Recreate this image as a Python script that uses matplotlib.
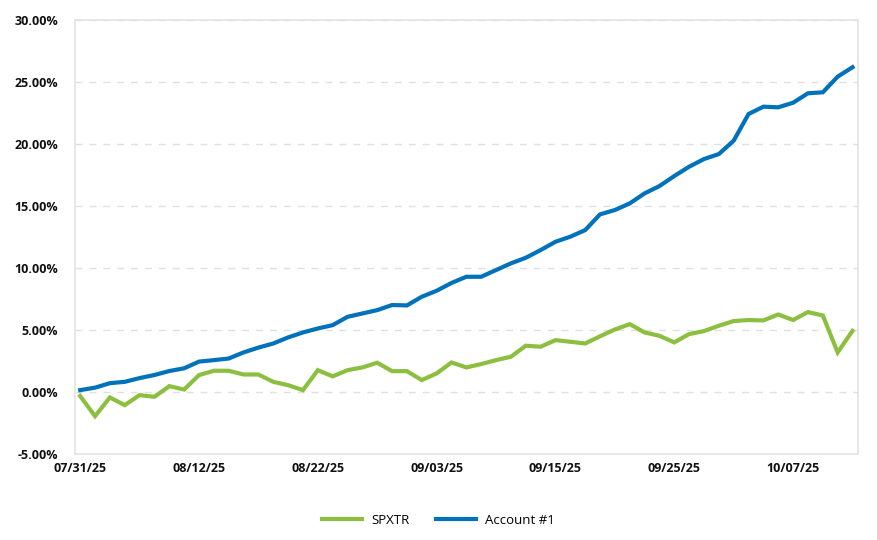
import matplotlib
matplotlib.use("Agg")
import matplotlib.pyplot as plt
from matplotlib.ticker import FuncFormatter

plt.rcParams['font.family'] = ['Open Sans', 'DejaVu Sans']

# cumulative return (%) per trading day, 07/31/25 .. 10/13/25
spxtr = [-0.32, -1.94, -0.43, -1.05, -0.24, -0.38, 0.48, 0.21, 1.37, 1.72,
         1.72, 1.42, 1.42, 0.83, 0.56, 0.16, 1.77, 1.27, 1.77, 1.99,
         2.37, 1.69, 1.69, 0.97, 1.51, 2.39, 1.99, 2.26, 2.58, 2.85,
         3.74, 3.66, 4.19, 4.06, 3.92, 4.50, 5.05, 5.48, 4.81, 4.54,
         4.01, 4.68, 4.92, 5.35, 5.73, 5.81, 5.78, 6.26, 5.81, 6.45,
         6.18, 3.20, 4.94]
account1 = [0.16, 0.36, 0.72, 0.83, 1.13, 1.38, 1.70, 1.92, 2.46, 2.58,
            2.71, 3.20, 3.59, 3.92, 4.41, 4.81, 5.13, 5.40, 6.07, 6.34,
            6.61, 7.02, 6.99, 7.69, 8.17, 8.80, 9.30, 9.30, 9.84, 10.38,
            10.83, 11.45, 12.12, 12.53, 13.06, 14.33, 14.68, 15.21, 16.02, 16.61,
            17.42, 18.17, 18.79, 19.19, 20.27, 22.42, 23.01, 22.96, 23.33, 24.09,
            24.17, 25.43, 26.19]
tick_labels = ['07/31/25', '08/12/25', '08/22/25', '09/03/25',
               '09/15/25', '09/25/25', '10/07/25']
tick_step = 8

green = '#8cbf3f'
blue = '#0072bc'
frame_col = '#e3e3e3'

fig = plt.figure(figsize=(8.77, 5.40), dpi=100)
ax = fig.add_axes([0.0855, 0.159, 0.8925, 0.804])

x = list(range(len(spxtr)))
ax.plot(x, spxtr, color=green, lw=3.0, label='SPXTR', solid_joinstyle='miter')
ax.plot(x, account1, color=blue, lw=3.0, label='Account #1', solid_joinstyle='miter')

ax.set_ylim(-5, 30)
ax.set_xlim(-0.35, len(x) - 1 + 0.35)
ax.set_yticks(range(-5, 31, 5))
ax.yaxis.set_major_formatter(FuncFormatter(lambda v, p: '%.2f%%' % v))
ax.set_xticks(range(0, len(x), tick_step)[:len(tick_labels)])
ax.set_xticklabels(tick_labels)

ax.grid(axis='y', color='#e0e0e0', lw=1.0, ls=(0, (5, 5)))
ax.set_axisbelow(True)
for s in ax.spines.values():
    s.set_color(frame_col)
    s.set_linewidth(1.2)

ax.tick_params(axis='both', length=0, labelsize=9, labelcolor='#111111')
ax.tick_params(axis='y', pad=12)
ax.tick_params(axis='x', pad=6)
for t in ax.get_xticklabels() + ax.get_yticklabels():
    t.set_fontweight('bold')

fig.legend(loc='center', bbox_to_anchor=(0.5, 0.037), ncol=2, frameon=False,
           fontsize=9.5, handlelength=3.0, columnspacing=2.0, handletextpad=0.7)

fig.savefig('out.png', dpi=100)
